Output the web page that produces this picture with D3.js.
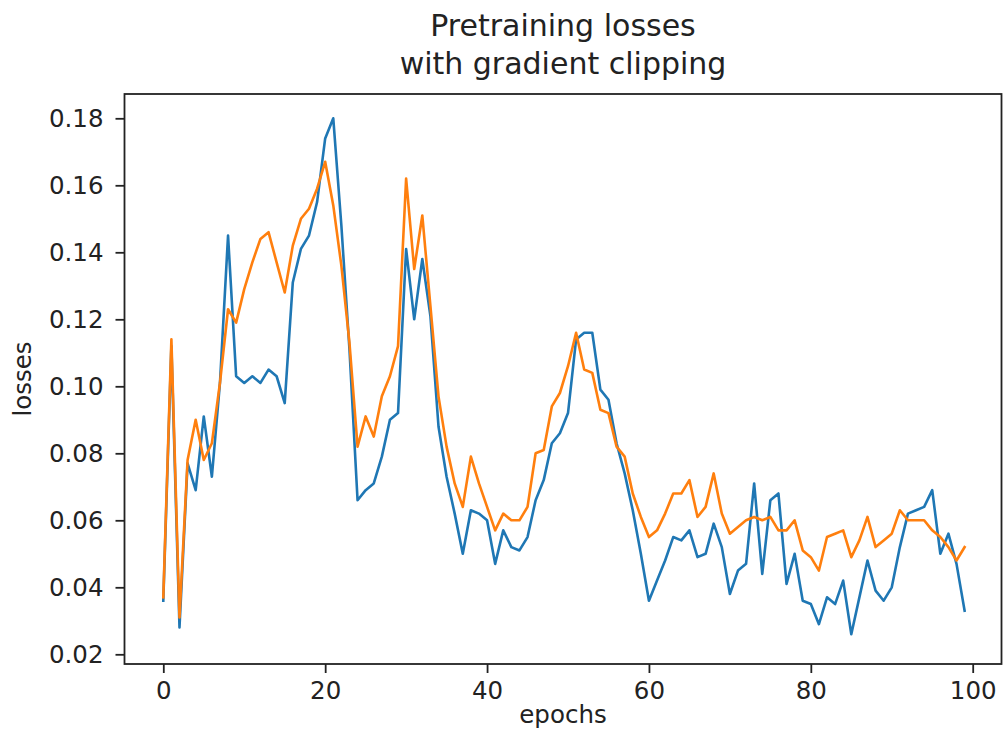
<!DOCTYPE html>
<html>
<head>
<meta charset="utf-8">
<script src="https://cdn.jsdelivr.net/npm/d3@7"></script>
<style>
  html, body { margin: 0; padding: 0; background: #fff; }
  svg { display: block; }
  text { font-family: "DejaVu Sans", sans-serif; fill: #222; }
</style>
</head>
<body>
<script>
// ---- data ----
const title = ["Pretraining losses", "with gradient clipping"];
const xLabel = "epochs";
const yLabel = "losses";
const xTicks = [0, 20, 40, 60, 80, 100];
const yTicks = [0.02, 0.04, 0.06, 0.08, 0.10, 0.12, 0.14, 0.16, 0.18];

const lossA = [
  0.036, 0.112, 0.028, 0.077, 0.069, 0.091, 0.073, 0.101, 0.145, 0.103,
  0.101, 0.103, 0.101, 0.105, 0.103, 0.095, 0.131, 0.141, 0.145, 0.155,
  0.174, 0.180, 0.148, 0.111, 0.066, 0.069, 0.071, 0.079, 0.090, 0.092,
  0.141, 0.120, 0.138, 0.121, 0.088, 0.073, 0.062, 0.050, 0.063, 0.062,
  0.060, 0.047, 0.057, 0.052, 0.051, 0.055, 0.066, 0.072, 0.083, 0.086,
  0.092, 0.114, 0.116, 0.116, 0.099, 0.096, 0.083, 0.074, 0.063, 0.050,
  0.036, 0.042, 0.048, 0.055, 0.054, 0.057, 0.049, 0.050, 0.059, 0.052,
  0.038, 0.045, 0.047, 0.071, 0.044, 0.066, 0.068, 0.041, 0.050, 0.036,
  0.035, 0.029, 0.037, 0.035, 0.042, 0.026, 0.037, 0.048, 0.039, 0.036,
  0.040, 0.052, 0.062, 0.063, 0.064, 0.069, 0.050, 0.056, 0.047, 0.033
];
const lossB = [
  0.037, 0.114, 0.031, 0.078, 0.090, 0.078, 0.083, 0.101, 0.123, 0.119,
  0.129, 0.137, 0.144, 0.146, 0.137, 0.128, 0.142, 0.150, 0.153, 0.159,
  0.167, 0.154, 0.136, 0.113, 0.082, 0.091, 0.085, 0.097, 0.103, 0.112,
  0.162, 0.135, 0.151, 0.124, 0.097, 0.082, 0.071, 0.064, 0.079, 0.071,
  0.064, 0.057, 0.062, 0.060, 0.060, 0.064, 0.080, 0.081, 0.094, 0.098,
  0.106, 0.116, 0.105, 0.104, 0.093, 0.092, 0.082, 0.079, 0.068, 0.061,
  0.055, 0.057, 0.062, 0.068, 0.068, 0.072, 0.061, 0.064, 0.074, 0.062,
  0.056, 0.058, 0.060, 0.061, 0.060, 0.061, 0.057, 0.057, 0.060, 0.051,
  0.049, 0.045, 0.055, 0.056, 0.057, 0.049, 0.054, 0.061, 0.052, 0.054,
  0.056, 0.063, 0.060, 0.060, 0.060, 0.057, 0.055, 0.052, 0.048, 0.052
];
const colors = ["#1f77b4", "#ff7f0e"];

// ---- layout ----
const W = 1003, H = 746;
const frame = { left: 124.5, right: 1001.5, top: 94, bottom: 664 };

const svg = d3.select("body").append("svg").attr("width", W).attr("height", H);

const x = d3.scaleLinear().domain([0, 100]).range([163.3, 972.7]);
const y = d3.scaleLinear().domain([0.02, 0.18]).range([654.3, 118.3]);

// lines
const line = d3.line().x((d, i) => x(i)).y(d => y(d));
[lossA, lossB].forEach((s, k) => {
  svg.append("path")
    .datum(s)
    .attr("d", line)
    .attr("fill", "none")
    .attr("stroke", colors[k])
    .attr("stroke-width", 2.6)
    .attr("stroke-linejoin", "round")
    .attr("stroke-linecap", "square");
});

// axes
const yAxis = d3.axisLeft(y).tickValues(yTicks).tickFormat(d3.format(".2f"))
  .tickSize(9).tickPadding(12);
const gy = svg.append("g").attr("transform", `translate(${frame.left},0)`).call(yAxis);
const xAxis = d3.axisBottom(x).tickValues(xTicks).tickFormat(d3.format("d"))
  .tickSize(9).tickPadding(9);
const gx = svg.append("g").attr("transform", `translate(0,${frame.bottom})`).call(xAxis);
[gx, gy].forEach(g => {
  g.select(".domain").remove();
  g.selectAll(".tick line").attr("stroke", "#222").attr("stroke-width", 1.8);
  g.selectAll(".tick text").attr("font-size", 24.5).attr("fill", "#222")
    .attr("font-family", "DejaVu Sans, sans-serif");
});
gx.selectAll(".tick text").attr("dy", "0.71em");

// frame
svg.append("rect")
  .attr("x", frame.left).attr("y", frame.top)
  .attr("width", frame.right - frame.left).attr("height", frame.bottom - frame.top)
  .attr("fill", "none").attr("stroke", "#222").attr("stroke-width", 1.8);

// labels
const cx = (frame.left + frame.right) / 2;
svg.append("text").attr("x", cx).attr("y", 723).attr("text-anchor", "middle")
  .attr("font-size", 24.5).text(xLabel);
svg.append("text")
  .attr("transform", `translate(31,${(frame.top + frame.bottom) / 2}) rotate(-90)`)
  .attr("text-anchor", "middle").attr("font-size", 24.5).text(yLabel);

// title
title.forEach((t, i) => {
  svg.append("text").attr("x", cx).attr("y", 36 + i * 37.5)
    .attr("text-anchor", "middle").attr("font-size", 30).text(t);
});
</script>
</body>
</html>
